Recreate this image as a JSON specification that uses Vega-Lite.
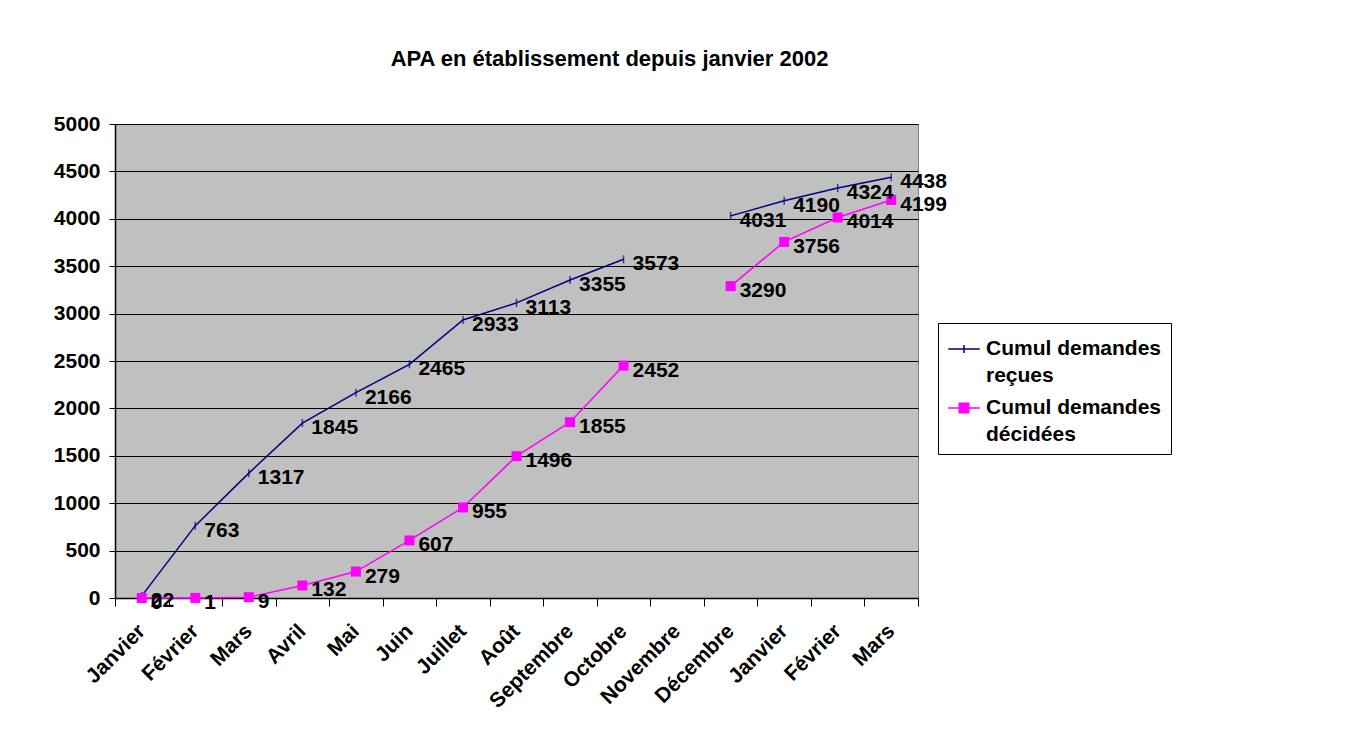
{
  "$schema": "https://vega.github.io/schema/vega-lite/v6.json",
  "autosize": "none",
  "width": 803,
  "height": 474,
  "padding": {"left": 115, "top": 124, "right": 429, "bottom": 153},
  "background": "white",
  "title": {
    "text": "APA en établissement depuis janvier 2002",
    "font": "Liberation Sans",
    "fontSize": 22,
    "fontWeight": "bold",
    "color": "black",
    "anchor": "middle",
    "dx": 93,
    "baseline": "alphabetic",
    "offset": 25
  },
  "config": {
    "view": {"fill": "#C0C0C0", "stroke": "#808080", "strokeWidth": 1},
    "font": "Liberation Sans"
  },
  "data": {
    "values": [
      {"mois": "Janvier 2002", "serie": "Cumul demandes reçues", "periode": "2002", "valeur": 22},
      {"mois": "Février 2002", "serie": "Cumul demandes reçues", "periode": "2002", "valeur": 763},
      {"mois": "Mars 2002", "serie": "Cumul demandes reçues", "periode": "2002", "valeur": 1317},
      {"mois": "Avril 2002", "serie": "Cumul demandes reçues", "periode": "2002", "valeur": 1845},
      {"mois": "Mai 2002", "serie": "Cumul demandes reçues", "periode": "2002", "valeur": 2166},
      {"mois": "Juin 2002", "serie": "Cumul demandes reçues", "periode": "2002", "valeur": 2465},
      {"mois": "Juillet 2002", "serie": "Cumul demandes reçues", "periode": "2002", "valeur": 2933},
      {"mois": "Août 2002", "serie": "Cumul demandes reçues", "periode": "2002", "valeur": 3113},
      {"mois": "Septembre 2002", "serie": "Cumul demandes reçues", "periode": "2002", "valeur": 3355},
      {"mois": "Octobre 2002", "serie": "Cumul demandes reçues", "periode": "2002", "valeur": 3573},
      {"mois": "Novembre 2002", "serie": "Cumul demandes reçues", "periode": "2002", "valeur": null},
      {"mois": "Décembre 2002", "serie": "Cumul demandes reçues", "periode": "2003", "valeur": 4031},
      {"mois": "Janvier 2003", "serie": "Cumul demandes reçues", "periode": "2003", "valeur": 4190},
      {"mois": "Février 2003", "serie": "Cumul demandes reçues", "periode": "2003", "valeur": 4324},
      {"mois": "Mars 2003", "serie": "Cumul demandes reçues", "periode": "2003", "valeur": 4438},
      {"mois": "Janvier 2002", "serie": "Cumul demandes décidées", "periode": "2002", "valeur": 0},
      {"mois": "Février 2002", "serie": "Cumul demandes décidées", "periode": "2002", "valeur": 1},
      {"mois": "Mars 2002", "serie": "Cumul demandes décidées", "periode": "2002", "valeur": 9},
      {"mois": "Avril 2002", "serie": "Cumul demandes décidées", "periode": "2002", "valeur": 132},
      {"mois": "Mai 2002", "serie": "Cumul demandes décidées", "periode": "2002", "valeur": 279},
      {"mois": "Juin 2002", "serie": "Cumul demandes décidées", "periode": "2002", "valeur": 607},
      {"mois": "Juillet 2002", "serie": "Cumul demandes décidées", "periode": "2002", "valeur": 955},
      {"mois": "Août 2002", "serie": "Cumul demandes décidées", "periode": "2002", "valeur": 1496},
      {"mois": "Septembre 2002", "serie": "Cumul demandes décidées", "periode": "2002", "valeur": 1855},
      {"mois": "Octobre 2002", "serie": "Cumul demandes décidées", "periode": "2002", "valeur": 2452},
      {"mois": "Novembre 2002", "serie": "Cumul demandes décidées", "periode": "2002", "valeur": null},
      {"mois": "Décembre 2002", "serie": "Cumul demandes décidées", "periode": "2003", "valeur": 3290},
      {"mois": "Janvier 2003", "serie": "Cumul demandes décidées", "periode": "2003", "valeur": 3756},
      {"mois": "Février 2003", "serie": "Cumul demandes décidées", "periode": "2003", "valeur": 4014},
      {"mois": "Mars 2003", "serie": "Cumul demandes décidées", "periode": "2003", "valeur": 4199}
    ]
  },
  "transform": [{"filter": "datum.valeur != null"}],
  "encoding": {
    "x": {
      "field": "mois",
      "type": "ordinal",
      "bandPosition": 0.5,
      "scale": {
        "type": "band",
        "paddingInner": 0,
        "paddingOuter": 0,
        "domain": ["Janvier 2002", "Février 2002", "Mars 2002", "Avril 2002", "Mai 2002", "Juin 2002", "Juillet 2002", "Août 2002", "Septembre 2002", "Octobre 2002", "Novembre 2002", "Décembre 2002", "Janvier 2003", "Février 2003", "Mars 2003"]
      },
      "axis": {
        "title": null,
        "labelExpr": "split(datum.label, ' ')[0]",
        "labelAngle": -45,
        "labelFont": "Liberation Sans",
        "labelFontSize": 21,
        "labelFontWeight": "bold",
        "labelColor": "black",
        "labelPadding": 14,
        "labelOffset": -8,
        "tickBand": "extent",
        "tickSize": 8,
        "tickColor": "black",
        "domainColor": "black",
        "domainWidth": 1.5,
        "grid": false
      }
    },
    "y": {
      "field": "valeur",
      "type": "quantitative",
      "scale": {"domain": [0, 5000], "nice": false},
      "axis": {
        "title": null,
        "values": [0, 500, 1000, 1500, 2000, 2500, 3000, 3500, 4000, 4500, 5000],
        "format": "d",
        "labelFont": "Liberation Sans",
        "labelFontSize": 21,
        "labelFontWeight": "bold",
        "labelColor": "black",
        "labelPadding": 9,
        "tickSize": 6,
        "tickColor": "black",
        "domainColor": "black",
        "domainWidth": 1.5,
        "grid": true,
        "gridColor": "black",
        "gridWidth": 1,
        "gridOpacity": 1
      }
    }
  },
  "layer": [
    {
      "mark": {"type": "line", "strokeWidth": 1.5},
      "encoding": {
        "color": {
          "field": "serie",
          "type": "nominal",
          "scale": {"domain": ["Cumul demandes reçues", "Cumul demandes décidées"], "range": ["#000080", "#FF00FF"]},
          "legend": {
            "title": null,
            "orient": "none",
            "legendX": 823,
            "legendY": 199,
            "padding": 9,
            "strokeColor": "black",
            "fillColor": "white",
            "labelFont": "Liberation Sans",
            "labelFontSize": 21,
            "labelFontWeight": "bold",
            "labelColor": "black",
            "labelLimit": 300,
            "labelExpr": "['Cumul demandes', slice(datum.label, 15)]",
            "labelBaseline": "middle",
            "labelOffset": 5,
            "rowPadding": 5,
            "symbolSize": 1000,
            "symbolStrokeWidth": 1.5,
            "symbolType": "M-1,0H1",
            "encode": {
              "labels": {"update": {"lineHeight": {"value": 27}}},
              "symbols": {
                "update": {
                  "shape": {"signal": "datum.value === 'Cumul demandes reçues' ? 'M-1,0H1M0,-0.25V0.25' : 'M-1,0H1M-0.3,-0.3H0.3V0.3H-0.3Z'"},
                  "fill": {"signal": "datum.value === 'Cumul demandes reçues' ? 'transparent' : '#FF00FF'"},
                  "stroke": {"signal": "datum.value === 'Cumul demandes reçues' ? '#000080' : '#FF00FF'"}
                }
              }
            }
          }
        },
        "detail": {"field": "periode"}
      }
    },
    {
      "transform": [{"filter": "datum.serie === 'Cumul demandes reçues'"}],
      "mark": {"type": "point", "shape": "M0,-1V1", "size": 64, "strokeWidth": 1.5, "color": "#000080", "filled": false}
    },
    {
      "transform": [{"filter": "datum.serie === 'Cumul demandes décidées'"}],
      "mark": {"type": "point", "shape": "square", "size": 100, "color": "#FF00FF", "filled": true, "opacity": 1}
    },
    {
      "mark": {"type": "text", "align": "left", "baseline": "middle", "dx": 9, "dy": 5, "font": "Liberation Sans", "fontSize": 21, "fontWeight": "bold", "color": "black"},
      "encoding": {"text": {"field": "valeur", "type": "quantitative", "format": "d"}}
    }
  ]
}
